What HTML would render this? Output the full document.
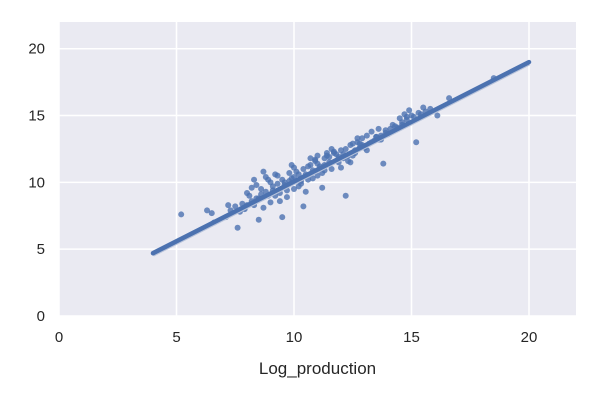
<!DOCTYPE html>
<html><head><meta charset="utf-8"><style>
body{margin:0;background:#fff;font-family:"Liberation Sans",sans-serif}
svg text{font-family:"Liberation Sans",sans-serif;fill:#262626}
</style></head><body>
<svg id="c" width="600" height="400"></svg>
<script>
const xTicks=[0,5,10,15,20];
const yTicks=[0,5,10,15,20];
const xLabel="Log_production";
const lineX=[4,20];
const lineY=[4.7,19.0];
const ptsX=[5.2,6.3,6.5,6.6,7.1,7.2,7.5,7.6,7.7,7.8,7.9,8.0,8.1,8.2,8.3,8.4,8.5,8.5,8.6,8.7,8.8,8.9,9.0,9.0,9.1,9.2,9.3,9.4,9.5,9.5,9.6,9.7,9.8,9.9,10.0,10.0,10.1,10.2,10.3,10.4,10.4,10.5,10.6,10.7,10.8,10.9,11.0,11.0,11.1,11.2,11.3,11.3,11.4,11.5,11.6,11.7,11.8,11.9,12.0,12.0,12.1,12.2,12.2,12.3,12.4,12.5,12.6,12.7,12.8,12.9,13.0,13.1,13.2,13.3,13.4,13.5,13.6,13.7,13.8,13.9,14.0,14.2,14.4,14.5,14.6,14.7,14.8,14.9,15.0,15.2,15.3,15.5,15.6,15.8,16.1,16.6,18.5,8.2,8.8,9.3,9.8,10.2,10.6,11.0,11.5,11.8,12.3,12.6,12.9,13.3,13.6,13.9,14.3,7.3,8.0,8.6,9.1,9.6,10.9,11.3,11.7,12.1,12.5,13.0,13.5,14.1,14.6,15.1,15.4,10.0,10.8,11.9,12.8,13.7,9.4,8.4,7.9,8.9,9.2,9.7,10.3,10.7,11.2,11.6,12.4,13.1,14.8,9.9,10.5,8.3,8.7,11.4,12.7];
const ptsY=[7.6,7.9,7.7,7.0,7.4,8.3,8.2,6.6,7.8,8.4,8.0,8.3,9.0,8.6,8.3,9.8,7.2,8.8,9.5,10.8,9.3,10.2,8.5,10.0,9.4,9.0,10.5,8.6,7.4,10.2,9.8,9.4,10.7,10.3,10.4,9.5,10.8,9.7,10.1,8.2,11.0,10.6,10.2,11.3,10.9,11.6,12.0,10.5,11.2,9.6,11.8,10.9,12.2,11.5,11.0,12.3,11.6,11.9,12.4,11.1,12.1,9.0,12.5,11.6,12.8,12.0,12.2,13.0,12.6,13.3,12.7,13.5,12.9,13.8,13.1,13.4,14.0,13.2,11.4,13.9,13.6,14.3,14.1,14.8,14.5,15.1,14.7,15.4,15.0,13.0,15.2,15.6,15.3,15.5,15.0,16.3,17.8,9.6,10.4,9.9,10.1,10.6,11.2,11.4,11.9,12.1,12.0,12.4,12.8,13.0,13.2,13.7,14.2,7.9,9.2,9.1,9.7,10.0,11.7,11.3,12.2,11.8,12.9,12.6,13.4,14.0,14.3,14.9,15.1,11.1,10.3,11.5,12.9,13.5,9.2,8.8,8.1,9.0,10.6,8.9,9.9,11.8,10.7,12.5,11.5,12.4,14.9,11.3,9.3,10.2,8.1,12.0,13.3];
const NS="http://www.w3.org/2000/svg";
const L=59,R=576,T=22,B=316,XMAX=22,YMAX=22;
const sx=v=>L+v/XMAX*(R-L), sy=v=>B-v/YMAX*(B-T);
const svg=document.getElementById('c');
function mk(t,a){const e=document.createElementNS(NS,t);for(const k in a)e.setAttribute(k,a[k]);svg.appendChild(e);return e;}
const bg=mk('rect',{x:L,y:T,width:R-L,height:B-T,fill:'#eaeaf2'});


xTicks.forEach(v=>{
  const g=mk('line',{x1:sx(v),x2:sx(v),y1:T,y2:B,stroke:'#fff','stroke-width':1.5});
  
  
  const t=mk('text',{x:sx(v),y:B+26,'text-anchor':'middle','font-size':15});
  t.textContent=v;
  
  
});
yTicks.forEach(v=>{
  const g=mk('line',{x1:L,x2:R,y1:sy(v),y2:sy(v),stroke:'#fff','stroke-width':1.5});
  
  
  const t=mk('text',{x:L-14,y:sy(v)+5,'text-anchor':'end','font-size':15});
  t.textContent=v;
  
  
});
ptsX.forEach((x,i)=>{
  const c=mk('circle',{cx:sx(x),cy:sy(ptsY[i]),r:3,fill:'#4c72b0','fill-opacity':0.8});
  
  
});
const ci=mk('line',{x1:sx(lineX[0]),y1:sy(lineY[0])+1.5,x2:sx(lineX[1]),y2:sy(lineY[1])+1.5,stroke:'#b8c3da','stroke-width':4});


const ln=mk('line',{x1:sx(lineX[0]),y1:sy(lineY[0]),x2:sx(lineX[1]),y2:sy(lineY[1]),stroke:'#4c72b0','stroke-width':4.5,'stroke-linecap':'round'});


const xl=mk('text',{x:(L+R)/2,y:374,'text-anchor':'middle','font-size':17});
xl.textContent=xLabel;


</script>
</body></html>
